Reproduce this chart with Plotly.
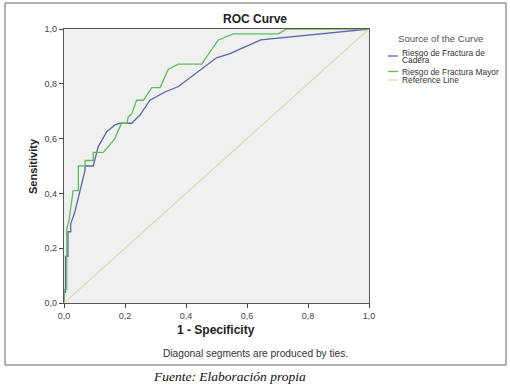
import plotly.graph_objects as go

# ROC data
cadera_fpr = [0.0, 0.0, 0.005, 0.005, 0.013, 0.013, 0.022, 0.022, 0.035, 0.05, 0.069, 0.069, 0.096,
              0.112, 0.14, 0.167, 0.184, 0.222, 0.249, 0.282, 0.331, 0.375, 0.446, 0.5, 0.544, 0.645, 1.0]
cadera_tpr = [0.0, 0.04, 0.04, 0.17, 0.17, 0.26, 0.26, 0.29, 0.33, 0.40, 0.485, 0.5, 0.5,
              0.57, 0.625, 0.65, 0.656, 0.656, 0.686, 0.74, 0.77, 0.79, 0.85, 0.895, 0.91, 0.96, 1.0]

mayor_fpr = [0.0, 0.0, 0.009, 0.009, 0.016, 0.03, 0.047, 0.047, 0.069, 0.069, 0.096, 0.096, 0.129,
             0.151, 0.167, 0.178, 0.189, 0.206, 0.211, 0.222, 0.238, 0.26, 0.288, 0.315, 0.342,
             0.375, 0.451, 0.506, 0.555, 0.703, 0.73, 1.0]
mayor_tpr = [0.0, 0.05, 0.05, 0.27, 0.30, 0.41, 0.41, 0.50, 0.50, 0.52, 0.52, 0.55, 0.55,
             0.577, 0.60, 0.63, 0.656, 0.656, 0.68, 0.69, 0.74, 0.74, 0.786, 0.786, 0.853,
             0.872, 0.872, 0.96, 0.982, 0.982, 1.0, 1.0]

ref_x = [0.0, 1.0]
ref_y = [0.0, 1.0]

tick_vals = [0.0, 0.2, 0.4, 0.6, 0.8, 1.0]
tick_text = ["0,0", "0,2", "0,4", "0,6", "0,8", "1,0"]

series_names = ["Riesgo de Fractura de Cadera", "Riesgo de Fractura Mayor", "Reference Line"]
series_colors = ["#5a66a8", "#5cbf5c", "#ddd8b0"]

W, H = 510, 386
L, R, T, B = 64, 369, 29, 303  # plot area in pixels


def px(xp):
    return (xp - L) / (R - L)


def py(yp):
    return (B - yp) / (B - T)


fig = go.Figure()
fig.add_trace(go.Scatter(x=cadera_fpr, y=cadera_tpr, mode="lines", name=series_names[0],
                         line=dict(color=series_colors[0], width=1.3)))
fig.add_trace(go.Scatter(x=mayor_fpr, y=mayor_tpr, mode="lines", name=series_names[1],
                         line=dict(color=series_colors[1], width=1.3)))
fig.add_trace(go.Scatter(x=ref_x, y=ref_y, mode="lines", name=series_names[2],
                         line=dict(color=series_colors[2], width=1.2)))

axis_common = dict(range=[0, 1], tickvals=tick_vals, ticktext=tick_text,
                   ticks="outside", ticklen=4, tickcolor="#444", showgrid=False,
                   zeroline=False, showline=True, linecolor="#555", linewidth=1.2,
                   mirror=True, tickfont=dict(family="Liberation Sans", size=9, color="#444"))

fig.update_layout(
    width=W, height=H,
    margin=dict(l=L, r=W - R, t=T, b=H - B, pad=0, autoexpand=False),
    paper_bgcolor="white", plot_bgcolor="#f0f0f0",
    xaxis=dict(**axis_common),
    yaxis=dict(**axis_common),
    showlegend=False,
    font=dict(family="Liberation Sans"),
)

fig.add_shape(type="rect", xref="paper", yref="paper",
              x0=px(5), x1=px(506), y0=py(365), y1=py(3),
              line=dict(color="#666", width=1), layer="below")


def note(text, x, y, size, color="#222", family="Liberation Sans", xanchor="center", angle=0):
    fig.add_annotation(text=text, xref="paper", yref="paper", x=px(x), y=py(y),
                       xanchor=xanchor, yanchor="middle", showarrow=False, align="left",
                       textangle=angle, font=dict(family=family, size=size, color=color))


# manual legend (compact, as in the reference)
note("Source of the Curve", 440, 38, 9.6, color="#555")
legend_lines = [56, 71.5, 80]
legend_text_rows = [[("Riesgo de Fractura de", 52.8), ("Cadera", 60.3)],
                    [("Riesgo de Fractura Mayor", 71.5)],
                    [("Reference Line", 80.3)]]
for color, yline, rows in zip(series_colors, legend_lines, legend_text_rows):
    fig.add_shape(type="line", xref="paper", yref="paper",
                  x0=px(388), x1=px(398), y0=py(yline), y1=py(yline),
                  line=dict(color=color, width=1.3))
    for txt, yrow in rows:
        note(txt, 399.5, yrow, 8.4, color="#333", xanchor="left")

note("<b>ROC Curve</b>", 255, 19, 12)
note("<b>Sensitivity</b>", 33, 166, 11, angle=-90)
note("<b>1 - Specificity</b>", 216, 330, 12)
note("Diagonal segments are produced by ties.", 255, 353, 10.2, color="#333")
note("<i>Fuente: Elaboración propia</i>", 229, 376, 13.5, color="#111", family="Liberation Serif")

fig.write_html("out.html", config={"displayModeBar": False},
               post_script="document.body.style.margin='0';")
